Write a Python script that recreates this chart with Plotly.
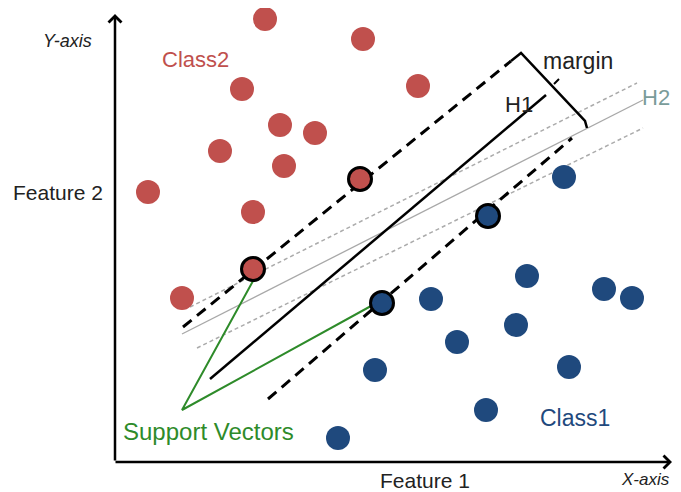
import plotly.graph_objects as go

# ---- data (pixel-space coordinates) ----
class2_x = [265, 363, 242, 418, 280, 315, 220, 284, 148, 253, 182]
class2_y = [19, 39, 89, 86, 125, 133, 151, 166, 192, 212, 298]
sv2_x = [360, 253]
sv2_y = [179, 269]

class1_x = [564, 431, 527, 604, 632, 516, 457, 375, 569, 486, 338]
class1_y = [177, 299, 276, 289, 298, 325, 342, 370, 367, 410, 438]
sv1_x = [488, 382]
sv1_y = [216, 303]

margin_up_x = [183, 511]
margin_up_y = [327, 61]
margin_lo_x = [268, 572]
margin_lo_y = [399, 138]
h1_x = [210, 546]
h1_y = [379, 95]
h2_x = [182, 643]
h2_y = [334, 100]
dot_up_x = [190, 637]
dot_up_y = [307, 83]
dot_lo_x = [197, 643]
dot_lo_y = [348, 128]
bracket_x = [511, 521, 585, 587]
bracket_y = [61, 53, 121, 128]
tick_x = [554, 559]
tick_y = [84, 79]
green_x = [253, 182, 371]
green_y = [281, 410, 306]

RED = "#C0504D"
BLUE = "#1F497D"
GREEN = "#2E8B2A"
FONT = "Liberation Sans, Arial, Helvetica, sans-serif"

fig = go.Figure()

def line(xs, ys, color, width, dash="solid"):
    fig.add_trace(go.Scatter(x=xs, y=ys, mode="lines",
                             line=dict(color=color, width=width, dash=dash),
                             hoverinfo="skip", showlegend=False))

line(dot_up_x, dot_up_y, "#ABABAB", 1.5, "4px,3px")
line(dot_lo_x, dot_lo_y, "#ABABAB", 1.5, "4px,3px")
line(h2_x, h2_y, "#A8A8A8", 1.3)
line(h1_x, h1_y, "black", 2.5)
line(margin_up_x, margin_up_y, "black", 3, "11px,7px")
line(margin_lo_x, margin_lo_y, "black", 3, "11px,7px")
line(bracket_x, bracket_y, "black", 2.5)
line(tick_x, tick_y, "black", 2)
line(green_x, green_y, GREEN, 2)

fig.add_trace(go.Scatter(x=class2_x, y=class2_y, mode="markers",
                         marker=dict(color=RED, size=24, line=dict(width=0)),
                         showlegend=False, hoverinfo="skip"))
fig.add_trace(go.Scatter(x=class1_x, y=class1_y, mode="markers",
                         marker=dict(color=BLUE, size=24, line=dict(width=0)),
                         showlegend=False, hoverinfo="skip"))
fig.add_trace(go.Scatter(x=sv2_x, y=sv2_y, mode="markers",
                         marker=dict(color=RED, size=23, line=dict(width=3, color="black")),
                         showlegend=False, hoverinfo="skip"))
fig.add_trace(go.Scatter(x=sv1_x, y=sv1_y, mode="markers",
                         marker=dict(color=BLUE, size=23, line=dict(width=3, color="black")),
                         showlegend=False, hoverinfo="skip"))

# axes arrows
fig.add_annotation(x=115, y=14, ax=115, ay=462, xref="x", yref="y", axref="x", ayref="y",
                   text="", showarrow=True, arrowhead=4, arrowwidth=2.5, arrowsize=1, arrowcolor="black")
fig.add_annotation(x=672, y=462, ax=114, ay=462, xref="x", yref="y", axref="x", ayref="y",
                   text="", showarrow=True, arrowhead=4, arrowwidth=2.5, arrowsize=1, arrowcolor="black")

def label(x, y, text, size, color="#222222", italic=False, xanchor="center"):
    fig.add_annotation(x=x, y=y, xref="x", yref="y", text=text, showarrow=False,
                       font=dict(family=FONT, size=size, color=color,
                                 style="italic" if italic else "normal"),
                       xanchor=xanchor, yanchor="middle")

label(67, 41, "Y-axis", 18, italic=True)
label(195, 59, "Class2", 22, RED)
label(58, 192, "Feature 2", 21)
label(578, 61, "margin", 23)
label(519, 104, "H1", 22)
label(672, 97, "H2", 22, "#7A9C9A", xanchor="right")
label(208, 431, "Support Vectors", 24, GREEN)
label(575, 418, "Class1", 23, BLUE)
label(425, 480, "Feature 1", 21)
label(672, 479, "X-axis", 17, italic=True, xanchor="right")

# page body has an 8px margin: shift the visible window so that
# data coordinates line up with page pixels
fig.update_layout(
    width=681, height=492,
    margin=dict(l=0, r=0, t=0, b=0),
    paper_bgcolor="white", plot_bgcolor="white",
    xaxis=dict(range=[8, 689], visible=False, fixedrange=True),
    yaxis=dict(range=[500, 8], visible=False, fixedrange=True),
)

fig.write_html("out.html")
